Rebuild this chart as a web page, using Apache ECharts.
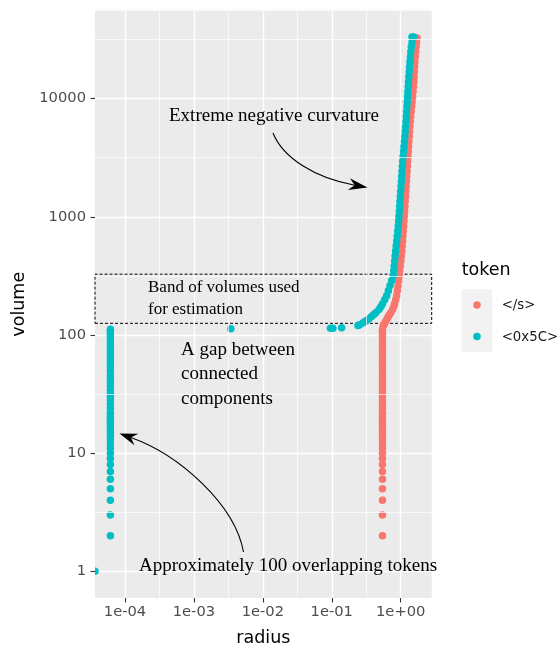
<!DOCTYPE html>
<html><head><meta charset="utf-8">
<script src="https://cdn.jsdelivr.net/npm/echarts/dist/echarts.min.js"></script>
<style>html,body{margin:0;padding:0;background:#fff}#chart{width:560px;height:652px}</style>
</head><body><div id="chart"></div>
<script>
// ---------------- data ----------------
const tokens = ['</s>', '<0x5C>'];
const tokenColors = ['#F8766D', '#00BFC4'];

// radius ticks (log10 exponents) and volume ticks
const xTickExp = [-4, -3, -2, -1, 0];
const yTickExp = [0, 1, 2, 3, 4];
const xMinorExp = [-3.5, -2.5, -1.5, -0.5];
const yMinorExp = [0.5, 1.5, 2.5, 3.5, 4.5];

// volumes of the tokens stacked in the two vertical columns
const columnVolume = [2,3,4,5,6,7,8,9,10,11,12,13,14,15,16,17,18,19,20,21,22,24,26,28,30,32,34,37,40,43,46,50,54,58,62,67,72,77,83,89,95,101,107,112];
const sColumnRadius = 0.544;
const cColumnRadius = 6.14e-5;

// </s> curve
const sCurveRadius = [1.725,1.586,1.700,1.677,1.654,1.631,1.610,1.595,1.580,1.566,1.552,1.535,1.511,1.488,1.465,1.443,1.420,1.398,1.377,1.359,1.345,1.331,1.317,1.303,1.290,1.277,1.263,1.251,1.238,1.225,1.212,1.200,1.188,1.176,1.163,1.151,1.139,1.128,1.116,1.105,1.093,1.079,1.066,1.053,1.040,1.023,1.005,0.988,0.971,0.954,0.934,0.914,0.894,0.875,0.845,0.816,0.795,0.765,0.718,0.689,0.661,0.636,0.614,0.591,0.569,0.559];
const sCurveVolume = [32650,32650,30210,27430,24890,22590,20500,18600,16880,15320,13910,12620,11460,10400,9435,8563,7772,7052,6401,5808,5272,4784,4341,3941,3577,3246,2946,2674,2427,2202,1999,1814,1647,1494,1356,1231,1117,1013,920,835,758,688,624,566,514,467,423,384,349,317,287,261,237,215,199,184,174,164,154,149,143,137,132,127,122,120];

// <0x5C> curve
const cCurveRadius = [1.534,1.459,1.462,1.426,1.404,1.382,1.361,1.345,1.329,1.314,1.298,1.284,1.270,1.257,1.244,1.231,1.218,1.206,1.193,1.179,1.163,1.147,1.131,1.115,1.100,1.084,1.069,1.057,1.045,1.034,1.022,1.011,0.999,0.988,0.977,0.966,0.956,0.945,0.933,0.921,0.907,0.891,0.875,0.859,0.844,0.830,0.818,0.805,0.793,0.781,0.739,0.699,0.662,0.626,0.585,0.546,0.518,0.484,0.436,0.407,0.379,0.347,0.317,0.303,0.286,0.254,0.240];
const cCurveVolume = [33280,33280,30210,27430,24890,22590,20500,18600,16880,15320,13910,12620,11460,10400,9435,8563,7772,7052,6401,5808,5272,4784,4341,3941,3577,3246,2946,2674,2427,2202,1999,1814,1647,1494,1356,1231,1117,1013,920,835,758,688,624,566,514,467,423,384,349,317,287,261,237,215,199,184,174,164,154,149,143,137,132,130,127,122,120];

// isolated <0x5C> points (radius 0 is drawn at the panel edge)
const cExtraRadius = [0, 0.00344, 0.0957, 0.104, 0.139];
const cExtraVolume = [1, 113, 114, 114, 115];

// band of volumes used for estimation
const bandVolume = [125.5, 327];

// ---------------- build ----------------
const X_MIN = -4.435, X_MAX = 0.45, Y_MIN = -0.226, Y_MAX = 4.746;
const DOT = 7.5;
const lg = Math.log10;

function pt(r, v) {
  if (r > 0) return [lg(r), lg(v)];
  // -Inf radius: half dot clipped at the panel edge
  return { value: [X_MIN, lg(v)], symbol: 'path://M0,0 A10,10 0 0 1 0,20 Z', symbolSize: [DOT / 2, DOT], symbolOffset: [DOT / 4, 0] };
}

const sData = [];
columnVolume.forEach(v => sData.push(pt(sColumnRadius, v)));
sCurveRadius.forEach((r, i) => sData.push(pt(r, sCurveVolume[i])));

const cData = [];
columnVolume.forEach(v => cData.push(pt(cColumnRadius, v)));
cExtraRadius.forEach((r, i) => cData.push(pt(r, cExtraVolume[i])));
cCurveRadius.forEach((r, i) => cData.push(pt(r, cCurveVolume[i])));

function xFmt(v) {
  const e = Math.round(v);
  return '1e' + (e < 0 ? '-' : '+') + String(Math.abs(e)).padStart(2, '0');
}
function yFmt(v) { return String(Math.round(Math.pow(10, v))); }

const SANS = 'DejaVu Sans';
const SERIF = 'Liberation Serif';

function arrow(p0, p1, p2, p3, len, w, notch) {
  const dx = p3[0] - p2[0], dy = p3[1] - p2[1];
  const L = Math.hypot(dx, dy), ux = dx / L, uy = dy / L, nx = -uy, ny = ux;
  const tip = p3;
  const b1 = [tip[0] - len * ux + w * nx, tip[1] - len * uy + w * ny];
  const b2 = [tip[0] - len * ux - w * nx, tip[1] - len * uy - w * ny];
  const n = [tip[0] - notch * ux, tip[1] - notch * uy];
  return [
    { type: 'bezierCurve', silent: true, z: 100,
      shape: { x1: p0[0], y1: p0[1], cpx1: p1[0], cpy1: p1[1], cpx2: p2[0], cpy2: p2[1], x2: n[0], y2: n[1] },
      style: { stroke: '#000', lineWidth: 1.1, fill: null } },
    { type: 'polygon', silent: true, z: 100, shape: { points: [tip, b1, n, b2] }, style: { fill: '#000' } }
  ];
}

function txt(text, x, y, size, family, color, align) {
  return { type: 'text', silent: true, z: 100,
    style: { text: text, x: x, y: y, fontSize: size, fontFamily: family, fill: color, textAlign: align || 'left', textVerticalAlign: 'middle' } };
}

const graphics = [
  txt('Extreme negative curvature', 169, 116, 19, SERIF, '#000'),
  txt('Band of volumes used', 148, 288, 17, SERIF, '#000'),
  txt('for estimation', 148, 310, 17, SERIF, '#000'),
  txt('A gap between', 181, 350.5, 19, SERIF, '#000'),
  txt('connected', 181, 374.5, 19, SERIF, '#000'),
  txt('components', 181, 399, 19, SERIF, '#000'),
  txt('Approximately 100 overlapping tokens', 139, 566, 19, SERIF, '#000'),
  ...arrow([273, 133], [283, 158], [315, 178], [367.5, 187.5], 19, 6, 13),
  ...arrow([243.5, 552], [235, 505], [180, 455], [119.5, 433.5], 18, 6, 12),
  // legend
  txt('token', 461.7, 270, 17.5, SANS, '#000'),
  { type: 'rect', silent: true, shape: { x: 461.7, y: 289.3, width: 30.6, height: 31.5 }, style: { fill: '#F2F2F2' } },
  { type: 'rect', silent: true, shape: { x: 461.7, y: 320.8, width: 30.6, height: 31.5 }, style: { fill: '#F2F2F2' } },
  { type: 'circle', silent: true, z: 10, shape: { cx: 477, cy: 305, r: DOT / 2 }, style: { fill: tokenColors[0] } },
  { type: 'circle', silent: true, z: 10, shape: { cx: 477, cy: 336.5, r: DOT / 2 }, style: { fill: tokenColors[1] } },
  txt(tokens[0], 501.7, 306, 13.3, SANS, '#1A1A1A'),
  txt(tokens[1], 501.7, 337.5, 13.3, SANS, '#1A1A1A')
];

const chart = echarts.init(document.getElementById('chart'), null, { renderer: 'canvas' });
chart.setOption({
  animation: false,
  backgroundColor: '#ffffff',
  grid: { left: 95, top: 10.5, width: 336.7, height: 590, show: true, backgroundColor: '#EBEBEB', borderWidth: 0 },
  xAxis: {
    type: 'value', min: X_MIN, max: X_MAX, position: 'bottom',
    name: 'radius', nameLocation: 'middle', nameGap: 31,
    nameTextStyle: { color: '#000', fontSize: 17.5, fontFamily: SANS },
    axisLine: { show: false, onZero: false },
    axisTick: { show: true, length: 4.5, customValues: xTickExp, lineStyle: { color: '#333333', width: 1.1 } },
    axisLabel: { customValues: xTickExp, formatter: xFmt, color: '#4D4D4D', fontSize: 14.7, fontFamily: SANS, margin: 7 },
    splitLine: { show: true, lineStyle: { color: '#ffffff', width: 1.4 } }
  },
  yAxis: {
    type: 'value', min: Y_MIN, max: Y_MAX, position: 'left',
    name: 'volume', nameLocation: 'middle', nameGap: 62,
    nameTextStyle: { color: '#000', fontSize: 17.5, fontFamily: SANS },
    axisLine: { show: false, onZero: false },
    axisTick: { show: true, length: 4.5, customValues: yTickExp, lineStyle: { color: '#333333', width: 1.1 } },
    axisLabel: { customValues: yTickExp, formatter: yFmt, color: '#4D4D4D', fontSize: 14.7, fontFamily: SANS, margin: 9 },
    splitLine: { show: true, lineStyle: { color: '#ffffff', width: 1.4 } }
  },
  series: [
    { type: 'line', data: [], silent: true, z: 1,
      markLine: { silent: true, animation: false, symbol: ['none', 'none'], label: { show: false },
        lineStyle: { color: '#ffffff', width: 0.7, type: 'solid' },
        emphasis: { disabled: true },
        data: xMinorExp.map(v => ({ xAxis: v })).concat(yMinorExp.map(v => ({ yAxis: v }))) } },
    { name: tokens[0], type: 'scatter', data: sData, symbol: 'circle', symbolSize: DOT, z: 3,
      itemStyle: { color: tokenColors[0], opacity: 1 }, emphasis: { disabled: true } },
    { name: tokens[1], type: 'scatter', data: cData, symbol: 'circle', symbolSize: DOT, z: 4,
      itemStyle: { color: tokenColors[1], opacity: 1 }, emphasis: { disabled: true } },
    { type: 'line', data: [], silent: true, z: 6,
      markArea: { silent: true, animation: false, label: { show: false },
        itemStyle: { color: 'rgba(0,0,0,0)', borderColor: '#000', borderWidth: 1, borderType: [3, 2] },
        emphasis: { disabled: true },
        data: [[{ coord: [X_MIN, lg(bandVolume[0])] }, { coord: [X_MAX, lg(bandVolume[1])] }]] } }
  ],
  graphic: graphics
});
</script>
</body></html>
